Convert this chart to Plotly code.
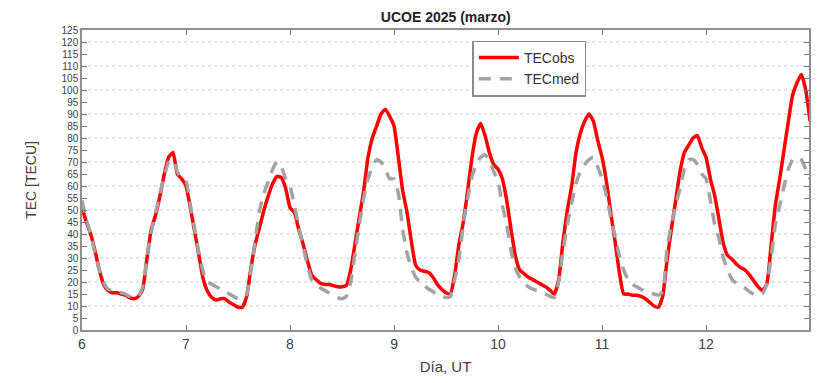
import plotly.graph_objects as go

# Hourly values, days 6..12 (hour 0..23) plus final hour 24 of day 12
days = [6, 7, 8, 9, 10, 11, 12]

tec_obs = {
    6:  [51, 45, 40, 33, 25, 19, 16.5, 15.5, 15.5, 15, 14.5, 13.5, 13, 14, 17, 30, 42, 48, 56, 65, 72, 74, 65, 63],
    7:  [60, 51, 41, 31, 21, 16, 13.5, 12.5, 13, 13, 11.5, 10.5, 9.5, 9.5, 14, 26, 36, 43, 50, 56, 61, 64, 63.5, 59],
    8:  [51, 49, 42, 36, 29, 23, 21, 19.5, 19, 19, 18.5, 18, 18, 18.5, 25, 36, 47, 58, 72, 80, 85, 90, 92, 89],
    9:  [85, 72, 58, 49, 37, 27, 25, 24.5, 24, 22, 19, 17, 15.5, 15, 23, 36, 45, 58, 72, 82, 86, 81, 74, 69],
    10: [67, 63, 54, 42, 31, 25, 23.5, 22, 21, 20, 19, 18, 16.5, 15, 21, 37, 50, 60, 74, 82, 87, 90, 87, 79],
    11: [72, 62, 49, 37, 24, 15, 15, 14.5, 14.5, 14, 13, 11.5, 10, 9.5, 14, 29, 42, 54, 66, 74, 77, 80, 81, 76],
    12: [72, 63, 56, 46, 36, 31, 29.5, 27.5, 26, 25, 23, 20.5, 18, 16.5, 19, 35, 52, 63, 75, 87, 98, 103, 106.5, 100, 87],
}

tec_med = {
    6:  [54, 46, 40, 32, 25, 20, 17, 16.5, 16, 15.5, 15, 14, 13.5, 14, 18, 30, 41, 49, 57, 64, 70, 71, 66, 63],
    7:  [62, 52, 42, 32, 24, 20, 19, 18, 17, 16, 15, 14, 13, 13, 15, 25, 38, 50, 57, 62, 67, 70, 68, 63],
    8:  [60, 52, 43, 35, 27, 21, 19, 17.5, 16.5, 15.5, 14.5, 13.5, 13, 14, 20, 32, 44, 55, 63, 68, 71, 70, 67, 63],
    9:  [63, 57, 42, 32, 26, 22, 20, 18.5, 17, 16, 14.5, 14, 13.5, 14, 21, 30, 44, 55, 64, 69, 72, 73, 71, 66],
    10: [62, 52, 44, 33, 26, 22, 19.5, 18, 17, 16.5, 16, 15, 14, 13.5, 20, 33, 44, 53, 61, 66, 69, 71, 72, 68],
    11: [63, 56, 47, 39, 31, 25, 21, 19, 18, 17, 16, 15.5, 15, 14.5, 16, 34, 44, 52, 59, 67, 71, 71, 69, 65],
    12: [63, 54, 44, 38, 30, 25, 21, 19.5, 18.5, 17.5, 16, 15, 14.5, 15, 19, 30, 44, 52, 60, 67, 71, 72, 71, 67, 63],
}

x_ticks = [6, 7, 8, 9, 10, 11, 12]
y_ticks = list(range(0, 126, 5))

def flatten(d):
    xs, ys = [], []
    for day in days:
        for h, v in enumerate(d[day]):
            xs.append(day + h / 24)
            ys.append(v)
    return xs, ys

xo, yo = flatten(tec_obs)
xm, ym = flatten(tec_med)

fig = go.Figure()
fig.add_trace(go.Scatter(x=xo, y=yo, mode="lines", name="TECobs",
                         line=dict(color="#ff0000", width=3.5, shape="spline", smoothing=0.5)))
fig.add_trace(go.Scatter(x=xm, y=ym, mode="lines", name="TECmed",
                         line=dict(color="#a3a3a3", width=3.5, dash="12px,9px",
                                   shape="spline", smoothing=0.5)))

font_family = "Liberation Sans, Arial, sans-serif"

fig.update_layout(
    width=821, height=383,
    margin=dict(l=82, r=10, t=30, b=48),
    paper_bgcolor="white", plot_bgcolor="white",
    font=dict(family=font_family, color="#404040"),
    title=dict(text="<b>UCOE 2025 (marzo)</b>", x=0.543, xanchor="center",
               y=0.955, yanchor="middle", font=dict(size=14, color="#222222")),
    showlegend=True,
    legend=dict(x=0.537, y=0.965, xanchor="left", yanchor="top",
                bgcolor="white", bordercolor="#8a8a8a", borderwidth=1.5,
                font=dict(size=14, color="#333333"), tracegroupgap=0,
                itemwidth=40),
)

fig.update_xaxes(
    range=[6, 12.99], tickvals=x_ticks, ticktext=[str(t) for t in x_ticks],
    ticks="inside", ticklen=5, tickcolor="#777777", tickwidth=1.2,
    showline=True, linecolor="#8f8f8f", linewidth=1.5, mirror="ticks",
    showgrid=False, zeroline=False,
    tickfont=dict(size=14, color="#404040"),
    title=dict(text="Día, UT", font=dict(size=15, color="#404040"), standoff=11),
)
fig.update_yaxes(
    range=[0, 125], tickvals=y_ticks, ticktext=[str(t) for t in y_ticks],
    ticks="inside", ticklen=5, tickcolor="#777777", tickwidth=1.2,
    showline=True, linecolor="#8f8f8f", linewidth=1.5, mirror="ticks",
    showgrid=False, zeroline=False,
    tickfont=dict(size=10, color="#404040"),
    title=dict(text="TEC [TECU]", font=dict(size=14, color="#404040"), standoff=22),
)

# dotted horizontal gridlines every 10
for g in range(10, 125, 10):
    fig.add_shape(type="line", xref="paper", x0=0, x1=1, yref="y", y0=g, y1=g,
                  line=dict(color="#c8c8c8", width=1, dash="dot"), layer="below")

fig.write_html("out.html")
